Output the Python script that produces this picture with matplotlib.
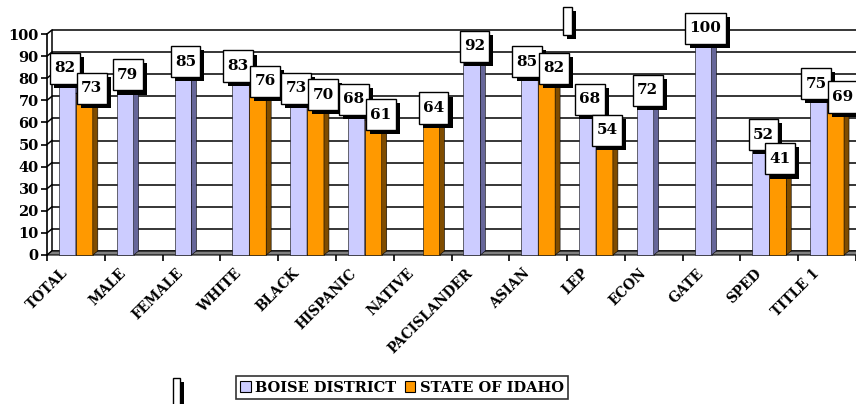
import matplotlib
matplotlib.use("Agg")
import matplotlib.pyplot as plt
import matplotlib.patheffects as pe
from matplotlib.patches import Polygon, Patch, Rectangle

categories = ['TOTAL', 'MALE', 'FEMALE', 'WHITE', 'BLACK', 'HISPANIC', 'NATIVE',
              'PACISLANDER', 'ASIAN', 'LEP', 'ECON', 'GATE', 'SPED', 'TITLE 1']
boise = [82, 79, 85, 83, 73, 68, None, 92, 85, 68, 72, 100, 52, 75]
idaho = [73, None, None, 76, 70, 61, 64, None, 82, 54, None, None, 41, 69]
series_names = ['BOISE DISTRICT', 'STATE OF IDAHO']
yticks = list(range(0, 101, 10))

FONT = 'DejaVu Serif'
front = ['#ccccff', '#ff9900']
side = ['#666699', '#7f4c00']
top = ['#9999cc', '#bf7300']

W, H = 856, 404
fig = plt.figure(figsize=(W / 100, H / 100), dpi=100)
left_px, cat_px = 47, 58
ax = fig.add_axes([left_px / W, 149 / H, 1 - left_px / W, 221 / H])
ax.set_xlim(0, (W - left_px) / cat_px)
ax.set_ylim(0, 100)

# 3d depth in data units
dx = 5 / cat_px
dy = 4 / 2.21
xmax = 14 + dx
bw = 0.293
x0 = 0.207

for s in ['top', 'right', 'bottom']:
    ax.spines[s].set_visible(False)
ax.spines['left'].set_linewidth(1.2)

ax.set_yticks(yticks)
ax.set_yticklabels([str(v) for v in yticks], fontfamily=FONT, fontweight='bold', fontsize=10.5)
ax.tick_params(axis='y', direction='out', length=4, width=1.2, pad=2)
ax.set_xticks(range(15))
ax.set_xticklabels([])
ax.tick_params(axis='x', direction='out', length=4, width=1.2)

# back wall: gridlines and left wall diagonals
ax.hlines([v + dy for v in yticks], dx, xmax, color='black', lw=1.1, zorder=1, clip_on=False)
ax.vlines(dx, dy, 100 + dy, color='black', lw=1.1, zorder=1, clip_on=False)
for v in yticks:
    ax.plot([0, dx], [v, v + dy], color='black', lw=1.1, zorder=1, clip_on=False)

# floor
ax.add_patch(Polygon([(0, 0), (xmax, 0), (xmax + dx, dy), (dx, dy)], closed=True,
                     facecolor='#808080', edgecolor='black', lw=0.8, zorder=2, clip_on=False))

for k, vals in enumerate([boise, idaho]):
    xs = [i + x0 + k * bw for i, v in enumerate(vals) if v is not None]
    hs = [v for v in vals if v is not None]
    ax.bar(xs, hs, width=bw, align='edge', color=front[k], edgecolor='black', lw=0.4,
           zorder=3 + k, clip_on=False)
    for x, h in zip(xs, hs):
        x1 = x + bw
        ax.add_patch(Polygon([(x1, 0), (x1 + dx, dy), (x1 + dx, h + dy), (x1, h)], closed=True,
                             facecolor=side[k], edgecolor='black', lw=0.4, zorder=3 + k, clip_on=False))
        ax.add_patch(Polygon([(x, h), (x1, h), (x1 + dx, h + dy), (x + dx, h + dy)], closed=True,
                             facecolor=top[k], edgecolor='black', lw=0.4, zorder=3 + k, clip_on=False))

# data labels: centered over bars, pushed apart when a pair would collide
sep = 27 / cat_px
for i in range(len(categories)):
    b, s = boise[i], idaho[i]
    cb = i + x0 + bw / 2 + dx / 2
    cs = i + x0 + 1.5 * bw + dx / 2
    if b is not None and s is not None and abs(b - s) <= 9:
        mid = (cb + cs) / 2
        cb, cs = mid - sep / 2, mid + sep / 2
    for v, c in [(b, cb), (s, cs)]:
        if v is None:
            continue
        t = ax.annotate(str(v), xy=(c, v), xytext=(0, 4), textcoords='offset points',
                        ha='center', va='center', fontfamily=FONT, fontweight='bold',
                        fontsize=11, zorder=10, annotation_clip=False,
                        bbox=dict(boxstyle='square,pad=0.28', facecolor='white',
                                  edgecolor='black', lw=1, mutation_aspect=2.0))
        t.get_bbox_patch().set_path_effects(
            [pe.SimplePatchShadow(offset=(3, -3), shadow_rgbFace='black', alpha=1), pe.Normal()])

# category labels
for i, name in enumerate(categories):
    ax.annotate(name, xy=(i + 0.5, 0), xytext=(-11, -8), textcoords='offset points',
                rotation=45, rotation_mode='anchor', ha='right', va='top',
                fontfamily=FONT, fontweight='bold', fontsize=9.8, annotation_clip=False)

# legend
handles = [Patch(facecolor=front[k], edgecolor='black', lw=0.8) for k in range(2)]
leg = fig.legend(handles, series_names, loc='center', bbox_to_anchor=(402 / W, 1 - 387.5 / H),
                 ncol=2, frameon=True, fancybox=False, edgecolor='black',
                 handlelength=0.7, handleheight=0.7, handletextpad=0.3, columnspacing=0.6,
                 borderpad=0.3, prop=dict(family=FONT, weight='bold', size=10.5))
leg.get_frame().set_linewidth(1.2)

# stray shapes from the original sheet
for (px, py, pw, ph) in [(563, 7, 9, 28), (173, 378, 7, 30)]:
    fig.add_artist(Rectangle((px / W, 1 - (py + ph) / H), pw / W, ph / H,
                             transform=fig.transFigure, facecolor='white',
                             edgecolor='black', lw=1,
                             path_effects=[pe.SimplePatchShadow(offset=(3, -3), shadow_rgbFace='black', alpha=1),
                                           pe.Normal()]))

fig.savefig('out.png', dpi=100)
